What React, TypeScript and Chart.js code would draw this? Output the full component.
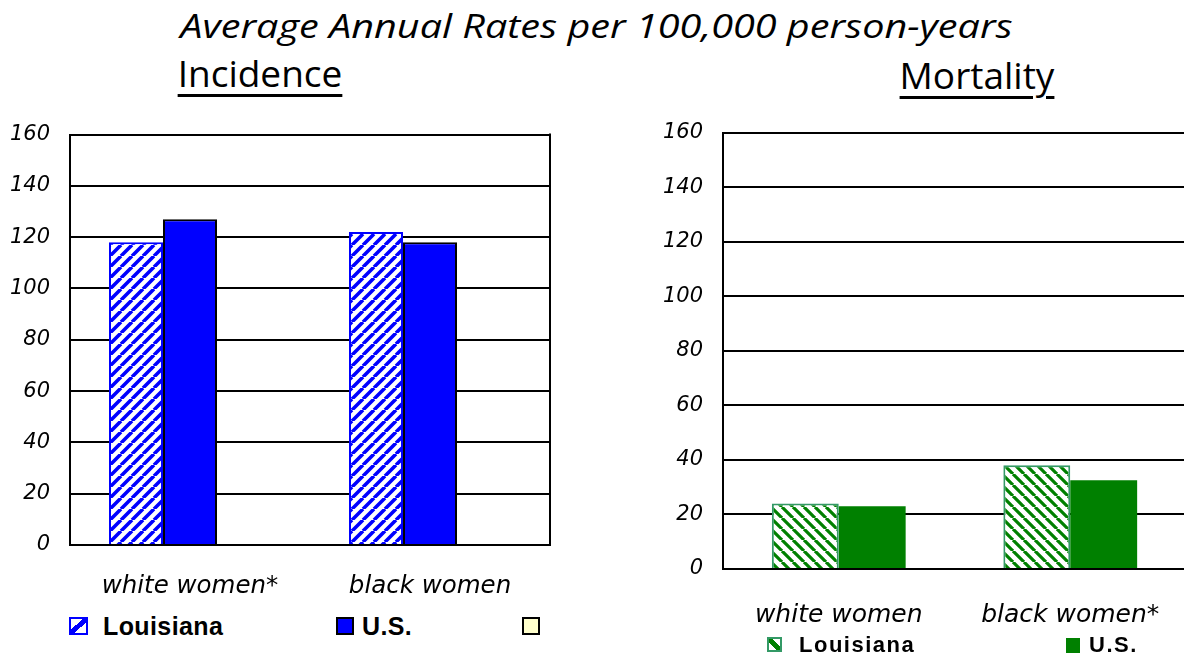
import React, { useEffect, useRef } from "react";
import { Chart, registerables } from "chart.js";

Chart.register(...registerables);

// ---------- data ----------
const incCategories = ["white women*", "black women"];
const incLouisiana = [118, 122];
const incUS = [127, 118];
const incBlank: (number | null)[] = [null, null];

const mortCategories = ["white women", "black women*"];
const mortLouisiana = [24, 38];
const mortUS = [23, 32.5];

const yMin = 0;
const yMax = 160;
const yStep = 20;

const seriesNames = ["Louisiana", "U.S."];

// ---------- helpers ----------
function stripePattern(color: string, dir: "/" | "\\", size: number, lw: number) {
  const c = document.createElement("canvas");
  c.width = size;
  c.height = size;
  const x = c.getContext("2d")!;
  x.fillStyle = "#ffffff";
  x.fillRect(0, 0, size, size);
  x.strokeStyle = color;
  x.lineWidth = lw;
  x.beginPath();
  for (let k = -1; k <= 1; k++) {
    if (dir === "/") {
      x.moveTo(k * size, size);
      x.lineTo(k * size + size, 0);
    } else {
      x.moveTo(k * size, 0);
      x.lineTo(k * size + size, size);
    }
  }
  x.stroke();
  return x.createPattern(c, "repeat")!;
}

const rightBorderPlugin = {
  id: "rightBorder",
  afterDatasetsDraw(chart: any) {
    const { ctx, chartArea } = chart;
    ctx.save();
    ctx.strokeStyle = "#000";
    ctx.lineWidth = 2;
    ctx.beginPath();
    ctx.moveTo(chartArea.right, chartArea.top - 1);
    ctx.lineTo(chartArea.right, chartArea.bottom + 1);
    ctx.stroke();
    ctx.restore();
  },
};

function yScale(width: number) {
  return {
    min: yMin,
    max: yMax,
    ticks: {
      stepSize: yStep,
      color: "#000",
      padding: 20,
      font: { family: "'DejaVu Sans'", size: 21, style: "italic" as const },
    },
    grid: { color: "#000", lineWidth: 2, drawTicks: false },
    border: { color: "#000", width: 2 },
    afterFit(scale: any) {
      scale.width = width;
    },
  };
}

function xScale(fontSize: number, padding: number, height: number) {
  return {
    ticks: {
      color: "#000",
      padding,
      font: { family: "'DejaVu Sans'", size: fontSize, style: "italic" as const },
    },
    grid: { display: false, drawTicks: false },
    border: { color: "#000", width: 2 },
    afterFit(scale: any) {
      scale.height = height;
    },
  };
}

export default function App() {
  const leftRef = useRef<HTMLCanvasElement>(null);
  const rightRef = useRef<HTMLCanvasElement>(null);

  useEffect(() => {
    const blueStripes = stripePattern("#0000FF", "/", 11, 3.6);
    const greenStripes = stripePattern("#008000", "\\", 11, 3.2);

    const left = new Chart(leftRef.current!, {
      type: "bar",
      data: {
        labels: incCategories,
        datasets: [
          {
            label: seriesNames[0],
            data: incLouisiana,
            backgroundColor: blueStripes as any,
            borderColor: "#0000FF",
            borderWidth: 2,
          },
          {
            label: seriesNames[1],
            data: incUS,
            backgroundColor: "#0000FF",
            borderColor: "#000000",
            borderWidth: 2,
          },
          {
            label: "",
            data: incBlank,
            backgroundColor: "#FFFFCC",
            borderColor: "#000000",
            borderWidth: 2,
          },
        ],
      },
      options: {
        responsive: false,
        animation: false,
        layout: { padding: { top: 8, right: 10, left: 0, bottom: 0 } },
        datasets: { bar: { categoryPercentage: 0.675, barPercentage: 1 } },
        plugins: { legend: { display: false }, tooltip: { enabled: false } },
        scales: {
          x: xScale(24.5, 27, 50) as any,
          y: yScale(70) as any,
        },
      },
      plugins: [rightBorderPlugin],
    });

    const right = new Chart(rightRef.current!, {
      type: "bar",
      data: {
        labels: mortCategories,
        datasets: [
          {
            label: seriesNames[0],
            data: mortLouisiana,
            backgroundColor: greenStripes as any,
            borderColor: "#339966",
            borderWidth: 2,
          },
          {
            label: seriesNames[1],
            data: mortUS,
            backgroundColor: "#008000",
            borderWidth: 0,
          },
        ],
      },
      options: {
        responsive: false,
        animation: false,
        layout: { padding: { top: 8, right: 24, left: 0, bottom: 0 } },
        datasets: { bar: { categoryPercentage: 0.578, barPercentage: 1 } },
        plugins: { legend: { display: false }, tooltip: { enabled: false } },
        scales: {
          x: xScale(25, 31.5, 70) as any,
          y: yScale(73) as any,
        },
      },
    });

    return () => {
      left.destroy();
      right.destroy();
    };
  }, []);

  const abs = (l: number, t: number): React.CSSProperties => ({
    position: "absolute",
    left: l,
    top: t,
  });

  const legendLeftText: React.CSSProperties = {
    fontFamily: "'Liberation Sans', Arial, sans-serif",
    fontWeight: "bold",
    fontSize: 25,
    lineHeight: "28px",
    letterSpacing: "0.4px",
    color: "#000",
    whiteSpace: "nowrap",
  };
  const legendRightText: React.CSSProperties = {
    fontFamily: "'Liberation Sans', Arial, sans-serif",
    fontWeight: "bold",
    fontSize: 22,
    lineHeight: "26px",
    letterSpacing: "1.5px",
    color: "#000",
    whiteSpace: "nowrap",
  };

  return (
    <div
      style={{
        position: "absolute",
        left: 0,
        top: 0,
        width: 1184,
        height: 658,
        overflow: "hidden",
        background: "#fff",
      }}
    >
      <div
        style={{
          position: "absolute",
          left: 0,
          top: 4,
          width: 1193,
          textAlign: "center",
          fontFamily: "'Open Sans', sans-serif",
          fontStyle: "italic",
          fontSize: 32,
          lineHeight: "44px",
          color: "#000",
          whiteSpace: "nowrap",
          transform: "scaleX(1.237)",
          transformOrigin: "596.5px 0",
        }}
      >
        Average Annual Rates per 100,000 person-years
      </div>
      <div
        style={{
          position: "absolute",
          left: 60,
          top: 48,
          width: 400,
          textAlign: "center",
          fontFamily: "'Open Sans', sans-serif",
          fontSize: 37,
          lineHeight: "50px",
          textDecoration: "underline",
          textDecorationThickness: "3px",
          textUnderlineOffset: "7px",
          color: "#000",
        }}
      >
        Incidence
      </div>
      <div
        style={{
          position: "absolute",
          left: 777,
          top: 50,
          width: 400,
          textAlign: "center",
          fontFamily: "'Open Sans', sans-serif",
          fontSize: 37,
          lineHeight: "50px",
          textDecoration: "underline",
          textDecorationThickness: "3px",
          textUnderlineOffset: "7px",
          color: "#000",
        }}
      >
        Mortality
      </div>

      <canvas
        ref={leftRef}
        width={560}
        height={493}
        style={{ ...abs(0, 102), width: 560, height: 493 }}
      />
      <canvas
        ref={rightRef}
        width={560}
        height={539}
        style={{ ...abs(650, 100), width: 560, height: 539 }}
      />

      {/* left legend */}
      <div
        style={{
          ...abs(69, 617),
          width: 15,
          height: 14,
          border: "2px solid #0000FF",
          background:
            "linear-gradient(to bottom right, #fff 38%, #0000FF 38%, #0000FF 62%, #fff 62%)",
        }}
      />
      <div style={{ ...abs(103, 612), ...legendLeftText }}>{seriesNames[0]}</div>
      <div
        style={{
          ...abs(336, 617),
          width: 14,
          height: 14,
          border: "2px solid #000",
          background: "#0000FF",
        }}
      />
      <div style={{ ...abs(362, 612), ...legendLeftText }}>{seriesNames[1]}</div>
      <div
        style={{
          ...abs(522, 617),
          width: 14,
          height: 14,
          border: "2px solid #000",
          background: "#FFFFCC",
        }}
      />

      {/* right legend */}
      <div
        style={{
          ...abs(767, 637),
          width: 11,
          height: 11,
          border: "2px solid #339966",
          background:
            "linear-gradient(to bottom left, #fff 36%, #008000 36%, #008000 64%, #fff 64%)",
        }}
      />
      <div style={{ ...abs(799, 632), ...legendRightText }}>{seriesNames[0]}</div>
      <div
        style={{
          ...abs(1066, 638),
          width: 14,
          height: 15,
          background: "#008000",
        }}
      />
      <div style={{ ...abs(1089, 632), ...legendRightText }}>{seriesNames[1]}</div>
    </div>
  );
}
